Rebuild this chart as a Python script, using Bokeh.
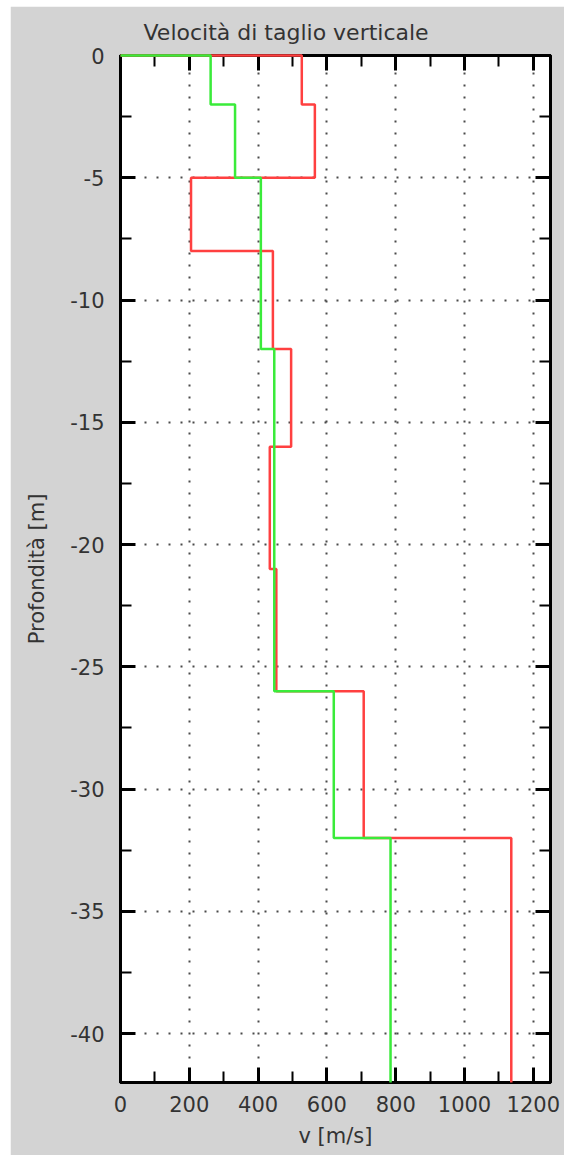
from bokeh.plotting import figure
from bokeh.models import LinearAxis, FixedTicker, Range1d, CustomJSTickFormatter
from bokeh.embed import file_html
from bokeh.resources import INLINE

# Shear-wave velocity profiles: layer top depths [m] and velocities [m/s]
red_tops = [0, 2, 5, 8, 12, 16, 21, 26, 32]
red_vs = [527, 565, 205, 443, 496, 434, 453, 707, 1136]
green_tops = [0, 2, 5, 12, 26, 32]
green_vs = [262, 333, 408, 447, 620, 785]
max_depth = 42

x_ticks = [0, 200, 400, 600, 800, 1000, 1200]
x_minor = list(range(0, 1300, 100))
y_ticks = [0, -5, -10, -15, -20, -25, -30, -35, -40]
y_minor = [-2.5 * i for i in range(17)]

FONT = "DejaVu Sans"
TXT = "#333333"


def step_path(tops, vs, bottom):
    xs, ys = [0], [0]
    for i, v in enumerate(vs):
        top = tops[i]
        bot = tops[i + 1] if i + 1 < len(tops) else bottom
        xs += [v, v]
        ys += [-top, -bot]
    return xs, ys


p = figure(
    frame_width=430, frame_height=1027,
    x_range=Range1d(0, 1250), y_range=Range1d(-max_depth, 0),
    output_backend="svg", toolbar_location=None,
    min_border_left=110, min_border_right=14,
    min_border_top=49, min_border_bottom=73,
    background_fill_color="white", border_fill_color="#d3d3d3",
    x_axis_location=None, y_axis_location=None,
)
p.margin = (6, 0, 0, 10)
p.outline_line_color = "black"
p.outline_line_width = 3

p.title.text = "Velocità di taglio verticale"
p.title.align = "left"
p.title.offset = 23
p.title.standoff = 22
p.title.text_font = FONT
p.title.text_font_size = "22px"
p.title.text_font_style = "normal"
p.title.text_color = TXT

xt = FixedTicker(ticks=x_ticks, minor_ticks=x_minor)
yt = FixedTicker(ticks=y_ticks, minor_ticks=y_minor)
blank = CustomJSTickFormatter(code="return '';")


def style_axis(ax, show_labels):
    ax.axis_line_color = "black"
    ax.axis_line_width = 3
    ax.major_tick_line_color = "black"
    ax.major_tick_line_width = 3
    ax.minor_tick_line_color = "black"
    ax.minor_tick_line_width = 2
    ax.major_tick_in = 15
    ax.major_tick_out = 0
    ax.minor_tick_in = 11
    ax.minor_tick_out = 0
    ax.major_label_text_font = FONT
    ax.major_label_text_font_size = "21px"
    ax.major_label_text_color = TXT
    ax.axis_label_text_font = FONT
    ax.axis_label_text_font_size = "21px"
    ax.axis_label_text_font_style = "normal"
    ax.axis_label_text_color = TXT
    if not show_labels:
        ax.formatter = blank
        ax.major_label_standoff = 0


bottom = LinearAxis(ticker=xt, axis_label="v [m/s]")
style_axis(bottom, True)
bottom.major_label_standoff = 13
bottom.axis_label_standoff = 9
left = LinearAxis(ticker=yt, axis_label="Profondità [m]")
style_axis(left, True)
left.major_label_standoff = 16
left.axis_label_standoff = 18
left.major_label_overrides = {t: "%d" % t for t in y_ticks}
top = LinearAxis(ticker=xt)
style_axis(top, False)
right = LinearAxis(ticker=yt)
style_axis(right, False)

p.add_layout(bottom, "below")
p.add_layout(left, "left")
p.add_layout(top, "above")
p.add_layout(right, "right")

p.xgrid.ticker = xt
p.ygrid.ticker = yt
for g in (p.xgrid, p.ygrid):
    g.grid_line_color = "#4a4a4a"
    g.grid_line_width = 2
    g.grid_line_dash = "2 10"

rx, ry = step_path(red_tops, red_vs, max_depth)
gx, gy = step_path(green_tops, green_vs, max_depth)
r_red = p.line(rx, ry, line_color="#ff4040", line_width=2.5)
r_green = p.line(gx, gy, line_color="#3aeb3a", line_width=2.5)
# profiles sit above the frame border so the surface segments stay visible
r_red.level = "overlay"
r_green.level = "overlay"

open("out.html", "w").write(file_html(p, INLINE))
